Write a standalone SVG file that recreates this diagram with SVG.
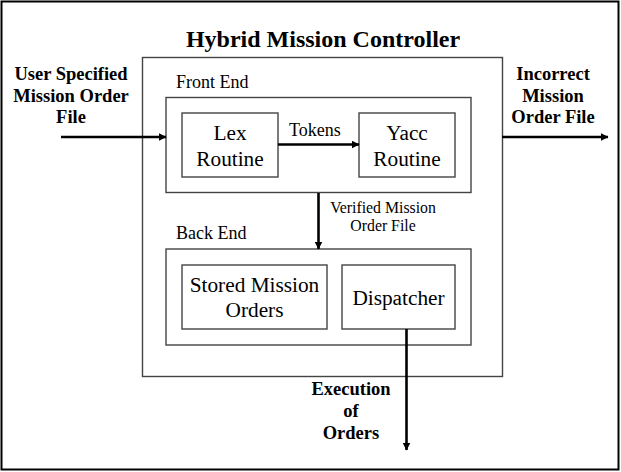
<svg xmlns="http://www.w3.org/2000/svg" width="621" height="472" viewBox="0 0 621 472">
  <defs>
    <marker id="head" markerWidth="8" markerHeight="8" refX="7.5" refY="4" orient="auto" markerUnits="userSpaceOnUse">
      <path d="M0,0 L8,4 L0,8 Z" fill="#000"/>
    </marker>
    <style>
      .frame { fill: none; stroke: #000; stroke-width: 2; }
      .box { fill: #fff; stroke: #444; stroke-width: 1.4; }
      .flow { fill: none; stroke: #000; stroke-width: 2.6; marker-end: url(#head); }
      text { font-family: "Liberation Serif", "Times New Roman", serif; fill: #000; }
      .bold { font-weight: bold; font-size: 18.5px; text-anchor: middle; }
      .title { font-weight: bold; font-size: 24px; text-anchor: middle; }
      .label { font-size: 18px; }
      .inner { font-size: 21.3px; text-anchor: middle; }
      .small { font-size: 15.8px; text-anchor: middle; }
    </style>
  </defs>

  <!-- page frame -->
  <rect class="frame" x="1.5" y="1.5" width="617" height="468"/>

  <g id="controller">
    <rect class="box" x="142.5" y="57.5" width="360" height="319"/>
    <text class="title" x="323" y="47">Hybrid Mission Controller</text>
  </g>

  <g id="front-end">
    <rect class="box" x="166" y="97.5" width="305" height="95"/>
    <text class="label" x="176" y="88">Front End</text>
  </g>

  <g id="lex">
    <rect class="box" x="182" y="113" width="96" height="64"/>
    <text class="inner" x="230" y="140">Lex</text>
    <text class="inner" x="230" y="165.5">Routine</text>
  </g>

  <g id="yacc">
    <rect class="box" x="359" y="113" width="96" height="64"/>
    <text class="inner" x="407" y="140">Yacc</text>
    <text class="inner" x="407" y="165.5">Routine</text>
  </g>

  <g id="back-end">
    <rect class="box" x="166" y="249" width="305" height="96"/>
    <text class="label" x="176" y="239">Back End</text>
  </g>

  <g id="stored-orders">
    <rect class="box" x="182" y="265" width="145" height="64"/>
    <text class="inner" x="254.5" y="291.5">Stored Mission</text>
    <text class="inner" x="254.5" y="317">Orders</text>
  </g>

  <g id="dispatcher">
    <rect class="box" x="342" y="265" width="113" height="64"/>
    <text class="inner" x="398.5" y="305">Dispatcher</text>
  </g>

  <g id="input-file">
    <text class="bold" x="71" y="80">User Specified</text>
    <text class="bold" x="71" y="101.5">Mission Order</text>
    <text class="bold" x="71" y="123">File</text>
  </g>

  <g id="incorrect-file">
    <text class="bold" x="553" y="80">Incorrect</text>
    <text class="bold" x="553" y="101.5">Mission</text>
    <text class="bold" x="553" y="123">Order File</text>
  </g>

  <g id="execution">
    <text class="bold" x="351" y="395">Execution</text>
    <text class="bold" x="351" y="417">of</text>
    <text class="bold" x="351" y="439">Orders</text>
  </g>

  <g id="connectors">
    <line class="flow" x1="61" y1="137" x2="166" y2="137"/>
    <line class="flow" x1="278" y1="144.5" x2="359" y2="144.5"/>
    <text class="label" x="289" y="136">Tokens</text>
    <line class="flow" x1="318.5" y1="193" x2="318.5" y2="249"/>
    <text class="small" x="383" y="213">Verified Mission</text>
    <text class="small" x="383" y="231">Order File</text>
    <line class="flow" x1="502" y1="137" x2="608" y2="137"/>
    <line class="flow" x1="406.5" y1="329" x2="406.5" y2="450"/>
  </g>
</svg>
